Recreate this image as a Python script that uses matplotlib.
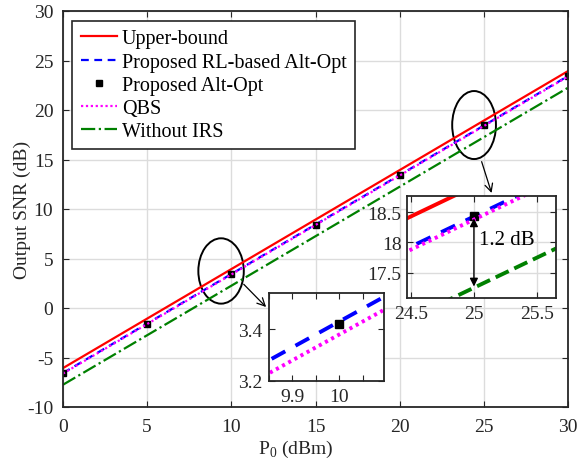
import matplotlib
matplotlib.use("Agg")
import matplotlib.pyplot as plt
from matplotlib.patches import Ellipse

plt.rcParams["font.family"] = ["Liberation Serif", "DejaVu Serif"]
plt.rcParams["font.size"] = 14
plt.rcParams["axes.unicode_minus"] = False
plt.rcParams["mathtext.fontset"] = "custom"
plt.rcParams["mathtext.rm"] = "Liberation Serif"

# data
p0 = [0, 5, 10, 15, 20, 25, 30]
upper_bound = [-6.07, -1.07, 3.93, 8.93, 13.93, 18.93, 23.93]
rl_alt_opt = [-6.57, -1.57, 3.43, 8.43, 13.43, 18.43, 23.43]
alt_opt = [-6.57, -1.57, 3.42, 8.43, 13.43, 18.44, 23.44]
qbs = [-6.62, -1.62, 3.38, 8.38, 13.38, 18.38, 23.38]
no_irs = [-7.75, -2.75, 2.25, 7.25, 12.25, 17.25, 22.25]

labels = ["Upper-bound", "Proposed RL-based Alt-Opt", "Proposed Alt-Opt",
          "QBS", "Without IRS"]
x_ticks = [0, 5, 10, 15, 20, 25, 30]
y_ticks = [-10, -5, 0, 5, 10, 15, 20, 25, 30]

dark = "#262626"
W, H = 585, 464
fig = plt.figure(figsize=(W / 100, H / 100), dpi=100)


def px_axes(x0, y0, x1, y1):
    return fig.add_axes([x0 / W, 1 - y1 / H, (x1 - x0) / W, (y1 - y0) / H])


def style_axes(ax, lw=1.3):
    for s in ax.spines.values():
        s.set_color(dark)
        s.set_linewidth(lw)
    ax.tick_params(direction="in", top=True, right=True, colors=dark,
                   labelcolor=dark, width=0.8, length=4, labelsize=14)
    ax.tick_params(which="minor", direction="in", top=True, right=True,
                   colors=dark, width=0.8, length=3)


def draw_series(ax, lw, ms, green_ls="-.", dash=None, dot=None):
    ax.plot(p0, upper_bound, "-", color="red", lw=lw, label=labels[0])
    ax.plot(p0, rl_alt_opt, "--", color="blue", lw=lw, label=labels[1],
            dashes=dash if dash else (3.5, 2.5))
    ax.plot(p0, alt_opt, "s", color="black", ms=ms, lw=0, label=labels[2])
    ax.plot(p0, qbs, ":", color="magenta", lw=lw, label=labels[3],
            dashes=dot if dot else (1, 1.2))
    ax.plot(p0, no_irs, green_ls, color="green", lw=lw, label=labels[4])


ax = px_axes(63, 12, 568, 408)
draw_series(ax, 1.6, 4.5)
ax.set_xlim(0, 30)
ax.set_ylim(-10, 30)
ax.set_xticks(x_ticks)
ax.set_yticks(y_ticks)
ax.grid(True, color="#dcdcdc", lw=1.0)
ax.set_axisbelow(True)
style_axes(ax)
ax.tick_params(axis="x", pad=8)
ax.tick_params(axis="y", pad=7)
ax.set_xlabel("P$_0$ (dBm)", fontsize=14, color=dark, va="center")
ax.xaxis.set_label_coords(0.46, -0.104)
ax.set_ylabel("Output SNR (dB)", fontsize=14, color=dark, va="center")
ax.yaxis.set_label_coords(-0.08, 0.5)

leg = ax.legend(loc="upper left", bbox_to_anchor=(0.018, 0.975), fontsize=14.5,
                frameon=True, fancybox=False, edgecolor=dark, framealpha=1,
                handlelength=1.8, handletextpad=0.25, labelspacing=0.2,
                borderpad=0.42, borderaxespad=0)
leg.get_frame().set_linewidth(1.2)

# zoom ellipses and arrows
ax.add_patch(Ellipse((9.39, 3.74), 2.7, 6.6, fill=False, ec="black", lw=1.4))
ax.add_patch(Ellipse((24.42, 18.48), 2.6, 6.87, fill=False, ec="black", lw=1.4))
ax.annotate("", xy=(12.18, -0.1), xytext=(10.62, 2.6),
            arrowprops=dict(arrowstyle="->", color="black", lw=0.9,
                            mutation_scale=14))
ax.annotate("", xy=(25.51, 11.35), xytext=(24.82, 15.05),
            arrowprops=dict(arrowstyle="->", color="black", lw=0.9,
                            mutation_scale=14))

# inset around P0 = 10
ax1 = px_axes(269, 294, 384, 382)
draw_series(ax1, 2.8, 6, dash=(4, 3), dot=(0.8, 1.0))
ax1.set_xlim(9.853, 10.095)
ax1.set_ylim(3.2, 3.54)
ax1.set_xticks([9.9, 10])
ax1.set_xticks([9.85, 9.95, 10.05], minor=True)
ax1.set_yticks([3.2, 3.4])
ax1.set_yticklabels(["3.2", "3.4"])
ax1.set_xticklabels(["9.9", "10"])
style_axes(ax1)
ax1.tick_params(which="both", length=4)
ax1.tick_params(axis="y", pad=5)
ax1.tick_params(axis="x", pad=5)

# inset around P0 = 25
ax2 = px_axes(407, 197, 556, 299)
draw_series(ax2, 2.8, 6, green_ls="--", dash=(4, 3), dot=(0.8, 1.0))
ax2.set_xlim(24.47, 25.65)
ax2.set_ylim(17.08, 18.77)
ax2.set_xticks([24.5, 25, 25.5])
ax2.set_yticks([17.5, 18, 18.5])
ax2.set_xticklabels(["24.5", "25", "25.5"])
ax2.set_yticklabels(["17.5", "18", "18.5"])
ax2.grid(True, color="#dcdcdc", lw=1.0)
ax2.set_axisbelow(True)
style_axes(ax2)
ax2.tick_params(axis="y", pad=4)
ax2.tick_params(axis="x", pad=5)
ax2.annotate("", xy=(25, 17.27), xytext=(25, 18.40),
             arrowprops=dict(arrowstyle="<|-|>", color="black", lw=1.0,
                             mutation_scale=12, shrinkA=0, shrinkB=0))
ax2.text(25.04, 18.05, "1.2 dB", fontsize=15, color="black", va="center")

fig.savefig("out.png", dpi=100)
